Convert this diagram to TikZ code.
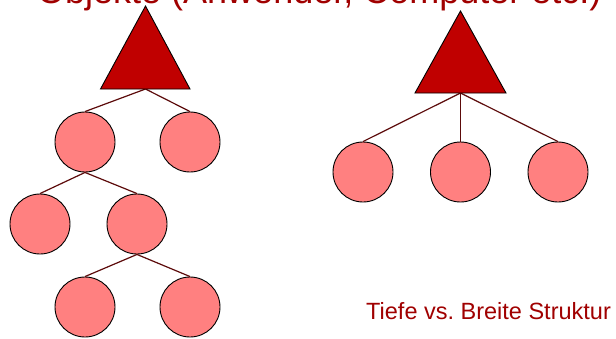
\documentclass[tikz,border=0pt]{standalone}
\usepackage{fontspec}
\setmainfont{Liberation Sans}
\frenchspacing
\definecolor{headred}{HTML}{A00000}
\definecolor{rootred}{HTML}{C00000}
\definecolor{leafpink}{HTML}{FF8080}
\definecolor{linkbrown}{HTML}{5C0A0A}
\tikzset{
  root/.style={draw=black, line width=0.9pt, fill=rootred, line join=miter},
  leaf/.style={circle, draw=black, line width=0.9pt, fill=leafpink, minimum size=60pt, inner sep=0pt},
  link/.style={draw=linkbrown, line width=1.2pt},
  caption/.style={text=headred, inner sep=0pt, anchor=base west}
}
\begin{document}
\begin{tikzpicture}[x=1pt, y=-1pt]
  \useasboundingbox (0,0) rectangle (616,338);
  \clip (0,0) rectangle (616,338);

  % heading, set above the top edge
  \node[caption, font=\fontsize{36}{40}\selectfont] (title) at (37,3) {Objekte (Anwender, Computer etc.)};

  % deep tree
  \coordinate (rA) at (145.5,89);
  \node[leaf] (a1) at (85,142) {};
  \node[leaf] (a2) at (190,142) {};
  \node[leaf] (a3) at (40,224) {};
  \node[leaf] (a4) at (137,224) {};
  \node[leaf] (a5) at (85,307) {};
  \node[leaf] (a6) at (190,307) {};
  \draw[link] (rA) -- (a1.north);
  \draw[link] (rA) -- (a2.north);
  \draw[link] (a1.south) -- (a3.north);
  \draw[link] (a1.south) -- (a4.north);
  \draw[link] (a4.south) -- (a5.north);
  \draw[link] (a4.south) -- (a6.north);
  \draw[root] (145.5,6) -- (190,89) -- (100.5,89) -- cycle;

  % broad tree
  \coordinate (rB) at (460.5,93);
  \node[leaf] (b1) at (363,172) {};
  \node[leaf] (b2) at (460.5,172) {};
  \node[leaf] (b3) at (558,172) {};
  \draw[link] (rB) -- (b1.north);
  \draw[link] (rB) -- (b2.north);
  \draw[link] (rB) -- (b3.north);
  \draw[root] (460.5,11) -- (506,93) -- (415,93) -- cycle;

  \node[caption, font=\fontsize{23.5}{27}\selectfont] (note) at (366,319) {Tiefe vs. Breite Struktur};
\end{tikzpicture}
\end{document}
